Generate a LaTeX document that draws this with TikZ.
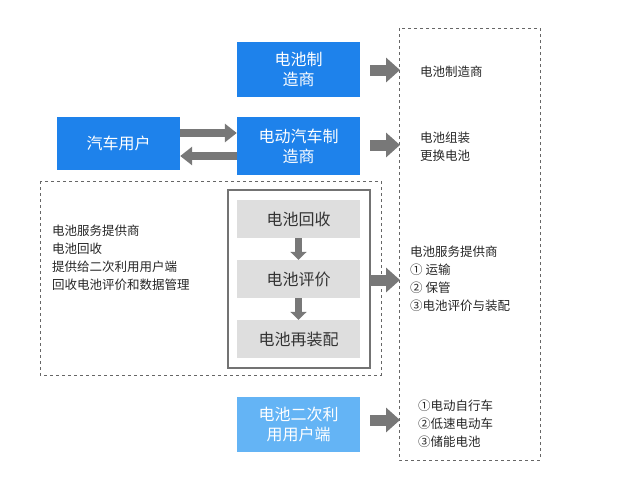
\documentclass[tikz,border=0pt]{standalone}
\usepackage{fontspec}
\setmainfont{Noto Sans CJK SC}
\usetikzlibrary{arrows.meta}
\definecolor{bblue}{RGB}{30,130,235}
\definecolor{lblue}{RGB}{100,180,245}
\definecolor{agray}{RGB}{120,120,120}
\definecolor{bgray}{RGB}{222,222,222}
\begin{document}
\begin{tikzpicture}[x=1pt,y=-1pt,
 bluebox/.style={fill=bblue,text=white,minimum width=123pt,minimum height=55pt,font=\fontsize{16}{20}\selectfont,align=center,inner sep=0},
 graybox/.style={fill=bgray,text=black!80,minimum width=123pt,minimum height=38pt,font=\fontsize{16}{20}\selectfont,inner sep=0},
 big/.style={draw=agray,line width=11pt,-{Triangle[length=14pt,width=24pt]}},
 small/.style={draw=agray,line width=7pt,-{Triangle[length=8pt,width=16pt]}},
 lbl/.style={font=\fontsize{12.5}{18}\selectfont,align=left,anchor=west,text=black!85,inner sep=0},
 dbox/.style={draw=black!60,dashed,line width=0.6pt}]
\useasboundingbox (0,0) rectangle (640,490);
\draw[dbox] (399,28) rectangle (540,460);
\draw[dbox] (40,181) rectangle (381,375);
\draw[black!55,line width=1.2pt,fill=white] (228,190) rectangle (370,368);
\node[bluebox] (bm) at (298.5,69.5) {电池制\\造商};
\node[bluebox,minimum height=53pt] (cu) at (118.5,143.5) {汽车用户};
\node[bluebox,minimum height=58pt] (em) at (298.5,146) {电动汽车制\\造商};
\node[bluebox,fill=lblue] (su) at (298.5,424.5) {电池二次利\\用用户端};
\node[graybox] (r1) at (298.5,219) {电池回收};
\node[graybox] (r2) at (298.5,279) {电池评价};
\node[graybox] (r3) at (298.5,339) {电池再装配};
\coordinate (ib) at (370,280);
\draw[small] (r1.south) -- (r2.north);
\draw[small] (r2.south) -- (r3.north);
\draw[big,line width=8pt,-{Triangle[length=12pt,width=18pt]}] (cu.east |- 0,133) -- (em.west |- 0,133);
\draw[big,line width=8pt,-{Triangle[length=12pt,width=18pt]}] (em.west |- 0,156) -- (cu.east |- 0,156);
\coordinate (a1) at (400,70);
\coordinate (a2) at (400,145);
\coordinate (a3) at (400,280);
\coordinate (a4) at (400,420);
\draw[big] (bm.east |- a1) ++(10,0) -- (a1);
\draw[big] (em.east |- a2) ++(10,0) -- (a2);
\draw[big] (ib) -- (a3);
\draw[big] (su.east |- a4) ++(10,0) -- (a4);
\node[lbl] (t1) at (420,72) {电池制造商};
\node[lbl] (t2) at (420,147) {电池组装\\更换电池};
\node[lbl] (t3) at (410,279) {电池服务提供商\\① 运输\\② 保管\\③电池评价与装配};
\node[lbl] (t4) at (418,424) {①电动自行车\\②低速电动车\\③储能电池};
\node[lbl] (t5) at (52,258) {电池服务提供商\\电池回收\\提供给二次利用用户端\\回收电池评价和数据管理};
\end{tikzpicture}
\end{document}
